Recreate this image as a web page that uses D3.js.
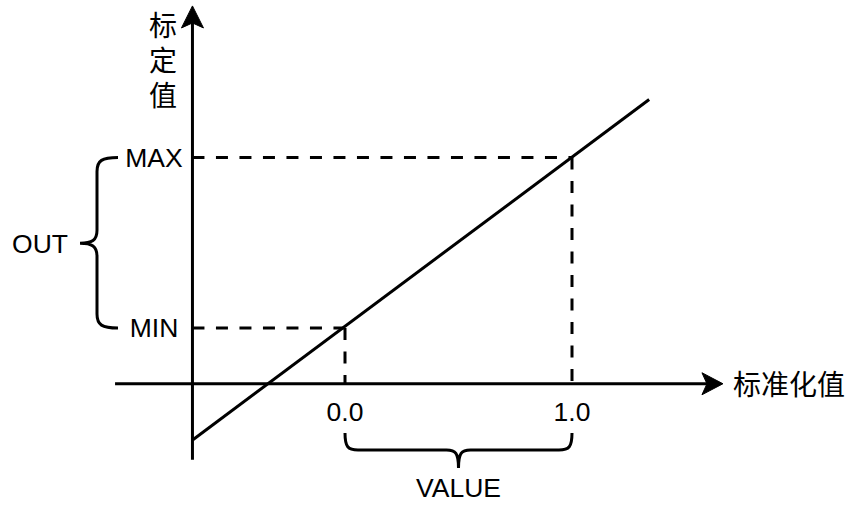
<!DOCTYPE html>
<html>
<head>
<meta charset="utf-8">
<script src="https://cdn.jsdelivr.net/npm/d3@7"></script>
<style>
  html, body { margin: 0; padding: 0; background: #fff; }
  svg { display: block; }
</style>
</head>
<body>
<div id="chart"></div>
<script>
// ---- data ----
const xTicks = [0, 1];
const xTickLabels = ["0.0", "1.0"];
const yLevels = [0, 1];
const yLevelLabels = ["MIN", "MAX"];
const linePoints = [[-0.67, -0.655], [1.34, 1.34]];
const xAxisExtent = [-1.013, 1.665];   // x-axis drawn along y = yAxisCross
const yAxisExtent = [-0.772, 1.889];   // y-axis drawn along x = xAxisCross
const xAxisCross = -0.672;             // where the vertical axis sits (x units)
const yAxisCross = -0.327;             // where the horizontal axis sits (y units)
const yTitle = "标定值";
const xTitle = "标准化值";
const outLabel = "OUT";
const valueLabel = "VALUE";

// ---- setup ----
const W = 853, H = 509;
const svg = d3.select("#chart").append("svg").attr("width", W).attr("height", H);
const x = d3.scaleLinear().domain([0, 1]).range([345, 572]);
const y = d3.scaleLinear().domain([0, 1]).range([328, 157.5]);

const latin = "'Liberation Sans', Arial, sans-serif";
const cjk = "'Noto Sans CJK SC', sans-serif";
const SW = 3;

// dashed guide lines
yLevels.forEach((v, i) => {
  svg.append("line")
    .attr("x1", x(xAxisCross)).attr("x2", x(xTicks[i]))
    .attr("y1", y(v)).attr("y2", y(v))
    .attr("stroke", "#000").attr("stroke-width", SW)
    .attr("stroke-dasharray", "12,11.5");
  svg.append("line")
    .attr("x1", x(xTicks[i])).attr("x2", x(xTicks[i]))
    .attr("y1", y(v)).attr("y2", y(yAxisCross))
    .attr("stroke", "#000").attr("stroke-width", SW)
    .attr("stroke-dasharray", "12,11.5");
});

// axes
const ax = x(xAxisCross), ay = y(yAxisCross);
svg.append("line")
  .attr("x1", x(xAxisExtent[0])).attr("x2", x(xAxisExtent[1]) - 8)
  .attr("y1", ay).attr("y2", ay)
  .attr("stroke", "#000").attr("stroke-width", SW);
svg.append("line")
  .attr("x1", ax).attr("x2", ax)
  .attr("y1", y(yAxisExtent[0])).attr("y2", y(yAxisExtent[1]) + 8)
  .attr("stroke", "#000").attr("stroke-width", SW);

// arrowheads
const xt = x(xAxisExtent[1]);
svg.append("path")
  .attr("d", `M${xt},${ay} L${xt - 21},${ay - 11} L${xt - 16},${ay} L${xt - 21},${ay + 11} Z`)
  .attr("fill", "#000").attr("stroke", "#000").attr("stroke-width", 1);
const yt = y(yAxisExtent[1]);
svg.append("path")
  .attr("d", `M${ax},${yt} L${ax - 11},${yt + 22} L${ax},${yt + 17} L${ax + 11},${yt + 22} Z`)
  .attr("fill", "#000").attr("stroke", "#000").attr("stroke-width", 1);

// main line
svg.append("path")
  .datum(linePoints)
  .attr("d", d3.line().x(d => x(d[0])).y(d => y(d[1])))
  .attr("fill", "none").attr("stroke", "#000").attr("stroke-width", SW);

// y level labels
yLevels.forEach((v, i) => {
  svg.append("text")
    .attr("x", 154).attr("y", y(v))
    .attr("text-anchor", "middle").attr("dominant-baseline", "central")
    .attr("font-family", latin).attr("font-size", 26.5)
    .text(yLevelLabels[i]);
});

// x tick labels
xTicks.forEach((v, i) => {
  svg.append("text")
    .attr("x", x(v)).attr("y", 412)
    .attr("text-anchor", "middle").attr("dominant-baseline", "central")
    .attr("font-family", latin).attr("font-size", 26.5)
    .text(xTickLabels[i]);
});

// axis titles
svg.append("text")
  .attr("x", 163).attr("y", 11)
  .style("writing-mode", "vertical-rl")
  .style("letter-spacing", "7px")
  .attr("font-family", cjk).attr("font-size", 28)
  .text(yTitle);
svg.append("text")
  .attr("x", 733).attr("y", 383)
  .attr("dominant-baseline", "central")
  .attr("font-family", cjk).attr("font-size", 28)
  .text(xTitle);

// OUT brace
const yTop = y(1), yBot = y(0), yMid = (yTop + yBot) / 2 + 0.5;
const bx = 97, bEnd = 118, tip = 80;
svg.append("path")
  .attr("d", `M${bEnd},${yTop} C${bx + 5},${yTop} ${bx},${yTop + 3} ${bx},${yTop + 14}
    L${bx},${yMid - 13} C${bx},${yMid - 3} ${bx - 5},${yMid} ${tip},${yMid}
    C${bx - 5},${yMid} ${bx},${yMid + 3} ${bx},${yMid + 13}
    L${bx},${yBot - 14} C${bx},${yBot - 3} ${bx + 5},${yBot} ${bEnd},${yBot}`)
  .attr("fill", "none").attr("stroke", "#000").attr("stroke-width", SW);
svg.append("text")
  .attr("x", 40).attr("y", 244)
  .attr("text-anchor", "middle").attr("dominant-baseline", "central")
  .attr("font-family", latin).attr("font-size", 26.5)
  .text(outLabel);

// VALUE brace
const x0 = x(0), x1 = x(1), xm = (x0 + x1) / 2, by0 = 433, by = 450, bt = 468;
svg.append("path")
  .attr("d", `M${x0},${by0} C${x0},${by - 3} ${x0 + 3},${by} ${x0 + 13},${by}
    L${xm - 12},${by} C${xm - 3},${by} ${xm},${by + 3} ${xm},${bt}
    C${xm},${by + 3} ${xm + 3},${by} ${xm + 12},${by}
    L${x1 - 13},${by} C${x1 - 3},${by} ${x1},${by - 3} ${x1},${by0}`)
  .attr("fill", "none").attr("stroke", "#000").attr("stroke-width", SW);
svg.append("text")
  .attr("x", xm).attr("y", 488)
  .attr("text-anchor", "middle").attr("dominant-baseline", "central")
  .attr("font-family", latin).attr("font-size", 26.5)
  .text(valueLabel);
</script>
</body>
</html>
